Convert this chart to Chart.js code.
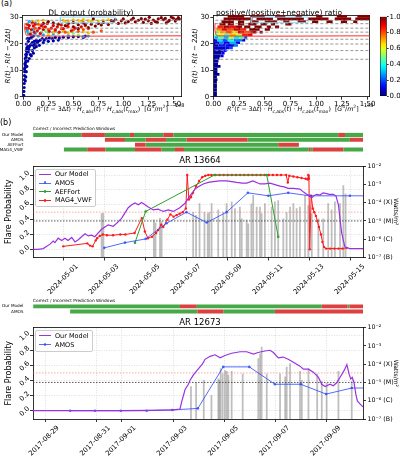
<!DOCTYPE html>
<html>
<head>
<meta charset="utf-8">
<script src="https://cdn.jsdelivr.net/npm/chart.js@4.4.1/dist/chart.umd.min.js"></script>
<style>
  body { margin: 0; background: #fff; }
  #fig { position: relative; width: 400px; height: 459px; overflow: hidden; font-family: "DejaVu Sans", sans-serif; color: #000; }
  #fig canvas, #fig .txt, #fig .legend { position: absolute; }
  .txt { white-space: nowrap; line-height: 1; }
  .math { font-size: 6.3px; }
  .math sub, .math sup { font-size: 70%; line-height: 0; }
  .legend { border: 0.8px solid #ccc; border-radius: 2px; background: rgba(255,255,255,0.85); padding: 0.5px 3px 1.5px 3px; font-size: 6.5px; }
  .legend .it { display: flex; align-items: center; white-space: nowrap; }
  .legend .sw { position: relative; width: 12px; height: 0; border-top-style: solid; margin-right: 4px; }
  .legend .dot { position: absolute; left: 4.6px; top: -2.2px; width: 2.8px; height: 2.8px; border-radius: 50%; }
</style>
</head>
<body>
<div id="fig">
  <div class="txt" style="left:1px;top:0;font-size:8px">(a)</div>
  <canvas id="dl" width="200" height="118" style="left:0;top:0"></canvas>
  <canvas id="ratio" width="190" height="118" style="left:186px;top:0"></canvas>
  <canvas id="cbar" width="26" height="95" style="left:374px;top:8px"></canvas>
  <div class="txt math" style="left:22.7px;width:159px;text-align:center;top:106px"><i>R</i><sup>2</sup>(<i>t</i> − 3Δ<i>t</i>) · <i>H</i><sub><i>c,abs</i></sub>(<i>t</i>) · <i>H</i><sub><i>c,abs</i></sub>(<i>t</i><sub>max</sub>)&nbsp; [<i>G</i><sup>4</sup>/<i>m</i><sup>2</sup>]</div>
  <div class="txt" style="left:175px;top:103px;font-size:5px">1e8</div>
  <div class="txt math" style="left:213.3px;width:159px;text-align:center;top:106px"><i>R</i><sup>2</sup>(<i>t</i> − 3Δ<i>t</i>) · <i>H</i><sub><i>c,abs</i></sub>(<i>t</i>) · <i>H</i><sub><i>c,abs</i></sub>(<i>t</i><sub>max</sub>)&nbsp; [<i>G</i><sup>4</sup>/<i>m</i><sup>2</sup>]</div>
  <div class="txt" style="left:364px;top:103px;font-size:5px">1e8</div>
  <div class="txt" style="left:0;top:119px;font-size:8px">(b)</div>
  <canvas id="win1" width="400" height="37" style="left:0;top:119px"></canvas>
  <canvas id="ar1" width="400" height="155" style="left:0;top:150px"></canvas>
  <canvas id="win2" width="400" height="28" style="left:0;top:290px"></canvas>
  <canvas id="ar2" width="400" height="147" style="left:0;top:312px"></canvas>
</div>
<script>
"use strict";

// ---------------------------------------------------------------------------
// Panel (a): DL output scatter, [x (1e8 G^4/m^2), y]
// ---------------------------------------------------------------------------
const dlBlue = [
  [0.004,0.5],[0.006,2],[0.008,3.5],[0.009,5],[0.011,6.5],[0.012,8],[0.014,9.5],[0.013,10.5],[0.017,11],
  [0.016,12.5],[0.02,12],[0.022,13],[0.02,14.5],[0.025,14],[0.028,15],[0.024,16],[0.032,16],[0.03,17.5],
  [0.036,17],[0.035,18.5],[0.04,18],[0.045,19],[0.045,13.5],[0.035,11.5],[0.03,9.5],[0.025,7.5],[0.02,6],
  [0.05,17],[0.055,18],[0.06,19],[0.06,14.5],[0.07,16],[0.07,19.5],[0.08,15.5],[0.08,20],[0.09,17.5],
  [0.09,20.5],[0.1,16.5],[0.1,19.5],[0.11,18.5],[0.11,21],[0.12,20],[0.13,19],[0.13,21.5],[0.14,20.5],
  [0.15,21],[0.16,19.5],[0.17,21.5],[0.19,22],[0.2,20.5],[0.21,21.5],[0.23,22],[0.25,21],[0.26,22.3],
  [0.29,22],[0.3,21.2],[0.32,22.5],[0.35,21.5],[0.36,22.3],[0.4,22.6],[0.45,22.5],[0.5,22.7],[0.55,22.8],
  [0.6,22.5],[0.62,23],[0.03,20],[0.04,22],[0.05,21],[0.06,22],[0.08,22.5],[0.1,23],
];
const dlLightBlue = [[0.05,24],[0.08,23.5],[0.12,24],[0.15,23],[0.2,23.5],[0.3,23.8],[0.45,23.2],[0.6,22.8],[0.65,23],[0.04,25],[0.1,25.5],[0.06,28.5],[0.12,28]];
const dlGreen = [[0.07,24.5],[0.18,24.5],[0.22,25],[0.35,24],[0.5,24],[0.55,23.5],[0.25,24.2]];
const dlYellow = [
  [0.1,28.5],[0.15,28.8],[0.2,29],[0.4,29],[0.45,28.8],[0.5,29.2],[0.55,29],[0.6,29.3],[0.65,28.9],[0.7,29.1],
  [0.75,28.7],[0.8,29],[0.85,29.2],[0.42,28.5],[0.58,28.6],[0.68,28.4],[0.3,24.5],[0.4,25],[0.45,24.2],
  [0.6,24.6],[0.65,24.2],[0.25,23.3],
];
const dlOrange = [[0.12,26],[0.2,26.5],[0.25,25.5],[0.32,25],[0.38,25.8],[0.42,24.5],[0.5,25.3],[0.55,24.8],[0.6,25.5],[0.7,24.5],[0.65,25.8],[0.78,25],[0.45,26.5],[0.15,27.5]];
const dlRed = [
  [0.05,26],[0.06,27],[0.08,25.5],[0.09,28],[0.1,26.8],[0.12,27.5],[0.14,25],[0.16,26],[0.18,27],[0.2,25.5],
  [0.22,26.5],[0.24,27.8],[0.26,24.8],[0.28,26],[0.3,27],[0.32,25.5],[0.34,26.5],[0.36,24.5],[0.38,27.2],
  [0.4,25.8],[0.44,26.8],[0.48,25],[0.52,26],[0.58,26.5],[0.62,27],[0.07,23.8],[0.11,24.5],[0.17,24],[0.04,27.5],[0.03,26],
];
const dlDarkRed = [
  [0.3,28],[0.35,27.5],[0.45,27.8],[0.5,28.2],[0.55,27.3],[0.6,28],[0.68,27.5],[0.72,26.8],[0.75,27.8],[0.8,28.2],
  [0.85,27.4],[0.9,28.5],[0.95,27.8],[1.0,29.5],[1.05,28.5],[1.1,29.8],[1.15,29],[1.2,28.2],[1.25,28.8],[1.28,27.8],
  [1.32,28.5],[1.35,29.5],[1.4,29.2],[1.43,28],[1.46,29],[1.5,29.8],[1.53,29.3],[1.55,30],[1.48,30.2],[1.38,30],
  [1.18,29.6],[0.98,28.8],[0.7,29.6],[0.5,26.5],[0.55,25.8],[0.65,26.2],[0.42,27],[0.25,28.5],[0.2,27.8],
  [1.02,28],[1.08,29.2],[1.12,28.4],[1.22,29.4],[1.3,29.1],[1.34,28.2],[1.42,29.7],[1.45,28.6],[1.52,28.7],
  [1.56,29.5],[0.92,29.3],[0.88,28.9],[0.78,27.2],[0.62,27.4],[1.26,30.1],
];
// probability shown by each group's colour
const dlGroups = [[dlBlue,0.04],[dlLightBlue,0.3],[dlGreen,0.5],[dlYellow,0.68],[dlOrange,0.8],[dlRed,0.9],[dlDarkRed,1.0]];

// Panel (a) right: 2D histogram rows, [y bin, x0, x1, ratio]
const heatLow = [
  [0,0,0.035,0],[1,0,0.035,0],[2,0,0.035,0],[3,0,0.035,0],[4,0,0.035,0],[5,0,0.035,0],[6,0,0.04,0],[7,0,0.035,0],
  [8,0,0.06,0],[9,0,0.04,0],[10,0,0.04,0],[11,0,0.07,0.02],[12,0,0.045,0.02],[13,0,0.05,0.03],[14,0,0.06,0.04],
];
const heatMid = [
  [15,0,0.07,0.02],[15,0.07,0.1,0.1],[16,0,0.08,0.03],[16,0.08,0.11,0.12],[17,0,0.1,0.05],[17,0.1,0.13,0.15],
  [18,0,0.12,0.06],[18,0.12,0.16,0.12],[18,0.16,0.19,0.2],[19,0,0.05,0.04],[19,0.05,0.12,0.15],[19,0.12,0.2,0.1],[19,0.2,0.24,0.25],
  [20,0,0.06,0.08],[20,0.06,0.1,0.25],[20,0.1,0.16,0.12],[20,0.16,0.22,0.3],[20,0.22,0.26,0.1],
  [21,0,0.04,0.1],[21,0.04,0.09,0.35],[21,0.09,0.14,0.2],[21,0.14,0.2,0.4],[21,0.2,0.28,0.25],[21,0.28,0.31,0.1],
  [22,0.01,0.05,0.3],[22,0.05,0.1,0.45],[22,0.1,0.15,0.3],[22,0.15,0.2,0.55],[22,0.2,0.25,0.35],[22,0.25,0.3,0.45],[22,0.3,0.33,0.2],
];
const heatHigh = [
  [23,0.01,0.05,0.5],[23,0.05,0.1,0.6],[23,0.1,0.16,0.45],[23,0.16,0.22,0.7],[23,0.22,0.28,0.55],[23,0.28,0.33,0.85],[23,0.33,0.38,0.9],
  [24,0.02,0.06,0.55],[24,0.06,0.12,0.7],[24,0.12,0.18,0.8],[24,0.18,0.24,0.65],[24,0.24,0.3,0.9],[24,0.3,0.36,0.8],[24,0.36,0.42,0.95],[24,0.45,0.48,1],
  [25,0.03,0.08,0.75],[25,0.08,0.14,0.88],[25,0.14,0.2,0.8],[25,0.2,0.26,0.92],[25,0.26,0.32,0.85],[25,0.35,0.45,1],[25,0.5,0.55,1],
  [26,0.04,0.1,0.85],[26,0.1,0.16,0.95],[26,0.16,0.22,0.88],[26,0.22,0.28,0.98],[26,0.3,0.36,1],[26,0.4,0.47,1],[26,0.52,0.56,1],[26,0.6,0.64,1],
  [27,0.06,0.12,1],[27,0.14,0.2,1],[27,0.24,0.3,1],[27,0.34,0.42,1],[27,0.46,0.52,1],[27,0.56,0.6,1],[27,0.7,0.76,1],
  [28,0.08,0.2,1],[28,0.24,0.3,1],[28,0.36,0.44,1],[28,0.5,0.62,1],[28,0.68,0.74,1],[28,0.82,0.9,1],[28,0.96,1.02,1],[28,1.1,1.16,1],[28,1.24,1.3,1],[28,1.36,1.4,1],
  [29,0.1,0.38,1],[29,0.42,0.58,1],[29,0.62,0.88,1],[29,0.92,1.12,1],[29,1.18,1.34,1],[29,1.38,1.52,1],
  [30,0.14,0.3,1],[30,0.36,0.5,1],[30,0.6,0.7,1],[30,0.8,0.86,1],[30,1.0,1.06,1],[30,1.2,1.3,1],[30,1.4,1.52,1],
];

const refLevels = [14.2, 17.5, 20.0, 21.8, 24.5, 26.0, 27.7, 29.0];
const redBoundary = [[0.018,28],[0.015,26],[0.022,24],[0.04,23.1],[1.6,23.1]];
const cyanBox = [[0.37,28.2],[0.92,28.2],[0.92,30.2],[0.37,30.2],[0.37,28.2]];
const aTicksX = [0, 0.25, 0.5, 0.75, 1.0, 1.25, 1.5];
const aTicksY = [0, 10, 20, 30];
const cbarTicks = [0, 0.2, 0.4, 0.6, 0.8, 1.0];

// ---------------------------------------------------------------------------
// Panel (b): AR 13664, x = days since 2024-05-01
// ---------------------------------------------------------------------------
const model13664 = [
  [-1.5,0],[-1.27,0],[-1.01,0.01],[-0.84,0.04],[-0.68,0.07],[-0.52,0.11],[-0.44,0.09],[-0.28,0.15],[-0.11,0.12],
  [0.05,0.15],[0.2,0.12],[0.38,0.16],[0.54,0.1],[0.7,0.13],[0.86,0.17],[1.03,0.21],[1.19,0.18],[1.35,0.19],[1.51,0.17],
  [1.67,0.22],[1.84,0.27],[2.0,0.3],[2.16,0.33],[2.41,0.31],[2.65,0.37],[2.82,0.42],[2.98,0.49],[3.14,0.56],[3.31,0.6],
  [3.47,0.625],[3.63,0.6],[3.79,0.63],[3.96,0.6],[4.12,0.57],[4.36,0.53],[4.6,0.54],[4.85,0.51],[5.09,0.53],[5.34,0.51],
  [5.66,0.56],[5.91,0.62],[6.15,0.72],[6.4,0.81],[6.6,0.85],[6.8,0.88],[7.05,0.9],[7.29,0.91],[7.6,0.92],[7.94,0.92],
  [8.2,0.91],[8.43,0.9],[8.7,0.89],[8.92,0.89],[9.23,0.92],[9.57,0.88],[9.8,0.88],[10.06,0.89],[10.3,0.87],[10.55,0.85],
  [10.75,0.84],[10.95,0.82],[11.2,0.82],[11.52,0.81],[11.7,0.77],[11.85,0.74],[12.01,0.72],[12.09,0.69],[12.2,0.72],
  [12.34,0.74],[12.5,0.73],[12.65,0.76],[12.83,0.75],[12.95,0.74],[13.15,0.74],[13.28,0.72],[13.4,0.6],[13.48,0.4],
  [13.56,0.22],[13.64,0.12],[13.72,0.03],[13.85,0.02],[13.96,0.01],[14.2,0.01],[14.6,0.01],
];
const amos13664 = [[1.97,0.02],[2.98,0.09],[3.99,0.14],[5.01,0.35],[5.98,0.5],[6.97,0.36],[7.94,0.5],[8.98,0.76],[9.98,0.72],[10.95,0.76],[12.0,0.72],[13.96,0.72],[14.95,0.72]];
const aeff13664 = [[3.47,0.09],[3.99,0.51],[7.35,1.0],[9.9,1.0],[10.46,0.17]];
const mag413664 = [
  [-0.03,0.04],[1.14,0.08],[1.27,0.05],[1.4,0.04],[1.55,0.12],[1.62,0.15],[1.75,0.18],[1.9,0.2],[2.1,0.19],[2.4,0.19],
  [2.75,0.2],[3.0,0.2],[3.45,0.22],[3.8,0.42],[3.95,0.24],[4.1,0.15],[4.3,0.17],[4.5,0.22],[4.6,0.26],[4.75,0.33],
  [4.85,0.3],[5.05,0.4],[5.2,0.47],[5.35,0.44],[5.5,0.46],[5.65,0.48],[5.8,0.5],[5.95,0.55],[6.02,1.0],[6.1,0.67],
  [6.2,0.7],[6.3,0.76],[6.45,0.85],[6.6,0.92],[6.75,0.97],[6.9,0.99],[7.05,1.0],[7.2,1.0],[7.4,1.0],[7.6,1.0],[7.8,1.0],
  [8.0,1.0],[8.2,1.0],[8.4,1.0],[8.6,1.0],[8.8,1.0],[9.0,1.0],[9.2,1.0],[9.4,1.0],[9.6,1.0],[9.8,1.0],[10.0,1.0],
  [10.2,1.0],[10.4,1.0],[10.6,1.0],[10.85,1.0],[10.93,0.9],[11.0,0.99],[11.2,0.98],[11.4,0.97],[11.6,0.96],[11.8,0.95],
  [11.9,0.94],[11.93,1.0],[11.96,0.95],[12.0,0.0],[12.07,0.72],[12.15,0.55],[12.22,0.5],[12.3,0.45],[12.37,0.38],
  [12.45,0.3],[12.55,0.2],[12.62,0.1],[12.7,0.03],[12.8,0.01],[13.0,0.01],[13.2,0.01],[13.4,0.01],[13.6,0.01],[13.8,0.02],
];
// GOES flares: [day, peak flux W/m^2]
const flares13664 = [
  [1.84,2.5e-5],[1.92,2.6e-5],[4.39,1.1e-5],[4.47,8e-6],[4.69,1.4e-5],[4.77,9e-6],[6.31,3e-5],[6.45,2e-5],[6.62,9e-5],
  [6.86,3e-5],[7.02,2.5e-5],[7.1,3e-5],[7.21,9e-5],[7.53,4e-5],[7.78,3e-5],[7.94,9e-5],[8.19,1.1e-4],[8.35,4.7e-5],
  [8.59,5.7e-5],[8.68,1.3e-5],[8.92,1.1e-5],[9.0,7e-6],[9.15,8.7e-5],[9.24,2.5e-4],[9.41,5.7e-5],[9.57,5.7e-5],
  [9.65,2.5e-5],[9.81,9e-5],[10.14,5.7e-5],[10.3,1.1e-4],[10.46,1.3e-4],[10.71,1.3e-5],[10.87,3e-5],[11.04,5.7e-5],
  [11.2,9e-5],[11.36,4.7e-5],[11.52,5.7e-5],[11.77,2.5e-4],[11.93,7e-5],[12.1,2.5e-5],[12.42,1.3e-5],[12.66,1.3e-5],
  [12.9,9e-5],[13.07,4e-5],[13.23,1.1e-4],[13.48,9e-5],[13.64,8.7e-4],[13.75,3e-4],
];
const ticks13664 = [0, 2, 4, 6, 8, 10, 12, 14];
const labels13664 = ["2024-05-01","2024-05-03","2024-05-05","2024-05-07","2024-05-09","2024-05-11","2024-05-13","2024-05-15"];
// prediction windows: [start day, end day, correct?]
const winModel13664 = [[-1.5,0.86,1],[0.86,2.0,0],[2.0,3.22,1],[3.22,3.42,0],[3.42,4.85,1],[4.85,5.34,0],[5.34,13.39,1],[13.39,13.72,0],[13.72,14.61,1]];
const winAmos13664 = [[2.0,2.98,0],[2.98,3.99,1],[3.99,4.98,0],[4.98,5.99,1],[5.99,8.97,0],[8.97,13.96,1],[13.96,14.61,0]];
const winAeff13664 = [[3.47,3.99,0],[3.99,10.46,1],[10.46,11.47,0]];
const winMag413664 = [[0.0,1.14,1],[1.14,2.02,0],[2.02,3.47,1],[3.47,4.77,0],[4.77,5.42,1],[5.42,5.86,0],[5.86,11.95,1],[11.95,12.05,0],[12.05,12.15,1],[12.15,13.64,0],[13.64,14.61,1]];

// AR 12673, x = days since 2017-08-29
const model12673 = [
  [-0.47,0],[1,0],[2,0],[3,0],[4,0.005],[5,0.01],[5.27,0.02],[5.34,0.12],[5.47,0.28],[5.6,0.35],[5.66,0.4],[5.79,0.47],
  [5.93,0.53],[6.03,0.57],[6.15,0.62],[6.25,0.68],[6.45,0.72],[6.64,0.74],[6.84,0.7],[7.03,0.73],[7.29,0.76],[7.62,0.78],
  [7.88,0.78],[8.14,0.75],[8.32,0.77],[8.59,0.79],[8.79,0.8],[8.92,0.77],[9.11,0.7],[9.3,0.71],[9.5,0.68],[9.7,0.64],
  [9.96,0.59],[10.09,0.55],[10.29,0.55],[10.48,0.51],[10.68,0.44],[10.81,0.35],[10.94,0.32],[11.13,0.35],[11.26,0.33],
  [11.39,0.37],[11.52,0.44],[11.68,0.53],[11.79,0.61],[11.88,0.48],[11.94,0.42],[12.0,0.44],[12.07,0.37],[12.14,0.22],
  [12.2,0.13],[12.3,0.09],[12.42,0.05],
];
const amos12673 = [[0.98,0],[1.95,0],[2.96,0],[3.97,0],[4.97,0.01],[5.97,0.03],[6.96,0.58],[7.98,0.58],[8.98,0.35],[9.99,0.35],[10.98,0.22],[11.98,0.3],[12.98,0.3]];
const flares12673 = [
  [5.7,6e-6],[5.9,1e-5],[6.2,1.3e-5],[6.5,2e-6],[6.77,1.6e-5],[6.81,1.3e-5],[6.86,5.7e-5],[6.94,3e-5],[7.03,4.5e-5],
  [7.1,4e-5],[7.16,2.5e-5],[7.29,4e-5],[7.72,3e-5],[8.33,2e-4],[8.4,3.7e-4],[8.46,8.5e-4],[8.66,3e-5],[9.18,3e-5],
  [9.38,2e-5],[9.44,7e-5],[9.57,1.07e-4],[9.96,4e-5],[10.03,1.3e-5],[10.29,5.7e-5],[10.63,3e-5],[10.81,1.1e-5],
  [11.0,9e-6],[11.46,4e-5],[11.98,1.1e-5],
];
const ticks12673 = [0, 2, 3, 5, 7, 9, 11];
const labels12673 = ["2017-08-29","2017-08-31","2017-09-01","2017-09-03","2017-09-05","2017-09-07","2017-09-09"];
const winModel12673 = [[-0.46,5.27,1],[5.27,5.93,0],[5.93,10.81,1],[10.81,11.82,0],[11.82,11.89,1],[11.89,12.43,0]];
const winAmos12673 = [[0.98,5.95,1],[5.95,6.96,0],[6.96,8.98,1],[8.98,12.43,0]];

const probTicks = [0, 0.2, 0.4, 0.6, 0.8, 1.0];
const fluxTicks = [1e-7, 1e-6, 1e-5, 1e-4, 1e-3, 1e-2];
const fluxLabels = ["10⁻⁷ (B)", "10⁻⁶ (C)", "10⁻⁵ (M)", "10⁻⁴ (X)", "10⁻³", "10⁻²"];
const probThreshold = 0.5;
const mClassFlux = 1e-5;

// ---------------------------------------------------------------------------
// helpers
// ---------------------------------------------------------------------------
Chart.defaults.font.family = "'DejaVu Sans', sans-serif";
Chart.defaults.color = "#000";
Chart.defaults.animation = false;
Chart.defaults.responsive = false;
Chart.defaults.plugins.legend.display = false;
Chart.defaults.plugins.tooltip.enabled = false;

const GREEN = "#46a846";
const RED = "#dc4141";
const PURPLE = "#9932e0";

const fixW = (w) => (s) => { s.width = w; };
const fixH = (h) => (s) => { s.height = h; };
const fixedTicks = (vals) => (s) => { s.ticks = vals.map((v) => ({ value: v })); };
const pts = (arr) => arr.map(([x, y]) => ({ x, y }));

function jet(v) {
  const c = (t) => Math.round(255 * Math.max(0, Math.min(1, t)));
  return `rgb(${c(Math.min(4 * v - 1.5, -4 * v + 4.5))},${c(Math.min(4 * v - 0.5, -4 * v + 3.5))},${c(Math.min(4 * v + 0.5, -4 * v + 2.5))})`;
}

const tickGrid = { display: true, drawOnChartArea: false, offset: false, tickColor: "#000", tickLength: 3, tickWidth: 0.8 };
const frame = {
  xTop: { type: "linear", position: "top", afterFit: fixH(0), ticks: { display: false }, grid: { display: false }, border: { color: "#000", width: 0.8 } },
  yRight: { type: "linear", position: "right", afterFit: fixW(0), ticks: { display: false }, grid: { display: false }, border: { color: "#000", width: 0.8 } },
};

function overlayLines(xMax) {
  const sets = refLevels.map((L) => ({
    type: "line", data: pts([[0.02, L], [xMax, L]]), borderColor: "#8a8a8a", borderWidth: 0.9,
    borderDash: [3, 2], pointRadius: 0, order: 0,
  }));
  sets.push({ type: "line", data: pts(redBoundary), borderColor: "#ff2a2a", borderWidth: 1, pointRadius: 0, tension: 0.3, order: 0 });
  sets.push({ type: "line", data: pts(cyanBox), borderColor: "#8fd3f0", borderWidth: 0.9, pointRadius: 0, order: 0 });
  return sets;
}

function panelAScales(xMin, xMax, yAxisWidth, titlePad) {
  return {
    x: {
      type: "linear", offset: false, min: xMin, max: xMax, afterBuildTicks: fixedTicks(aTicksX), afterFit: fixH(21.3),
      ticks: { callback: (v) => v.toFixed(2), font: { size: 7 }, padding: 0.5, maxRotation: 0 },
      grid: tickGrid, border: { color: "#000", width: 0.8 },
    },
    y: {
      type: "linear", offset: false, min: 0, max: 31, afterBuildTicks: fixedTicks(aTicksY), afterFit: fixW(yAxisWidth),
      ticks: { font: { size: 7 }, padding: 1 }, grid: tickGrid, border: { color: "#000", width: 0.8 },
      title: { display: true, text: "R(t) · R(t − 2Δt)", font: { size: 7, style: "italic" }, padding: { top: titlePad, bottom: 0 } },
    },
    ...frame,
  };
}

// (a) left: scatter coloured by DL probability
new Chart(document.getElementById("dl"), {
  type: "scatter",
  data: {
    datasets: [
      ...overlayLines(1.6),
      ...dlGroups.map(([g, p], i) => ({
        data: pts(g), backgroundColor: jet(p), borderWidth: 0, pointRadius: 1.6, order: 10 - i,
      })),
    ],
  },
  options: {
    layout: { padding: { left: 0, right: 18.3, top: 0, bottom: 0 } },
    plugins: { title: { display: true, text: "DL output (probability)", font: { size: 7.5, weight: "normal" }, padding: { top: 8.5, bottom: -2.5 } } },
    scales: panelAScales(-0.006, 1.584, 22.7, 3.8),
  },
});

// (a) right: positive/(positive+negative) ratio as a binned map
const heatCells = [...heatLow, ...heatMid, ...heatHigh];
new Chart(document.getElementById("ratio"), {
  type: "line",
  data: {
    datasets: [
      {
        type: "bar", indexAxis: "y", order: 5, borderWidth: 0, barPercentage: 1.04, categoryPercentage: 1,
        data: heatCells.map(([yb, x0, x1, v]) => ({ y: yb + 0.5, x: [x0, x1], v })),
        backgroundColor: (c) => (c.raw ? jet(c.raw.v) : "transparent"),
      },
      ...overlayLines(1.6),
    ],
  },
  options: {
    layout: { padding: { left: 0, right: 4, top: 0, bottom: 0 } },
    plugins: { title: { display: true, text: "positive/(positive+negative) ratio", font: { size: 7.5, weight: "normal" }, padding: { top: 8.5, bottom: -2.5 } } },
    scales: panelAScales(0, 1.52, 27.3, 4.8),
  },
});

// colour bar
new Chart(document.getElementById("cbar"), {
  type: "bar",
  data: {
    labels: [""],
    datasets: [{
      data: [[0, 1]], barPercentage: 1, categoryPercentage: 1, borderWidth: 0.8, borderColor: "#000", borderSkipped: false,
      backgroundColor: (c) => {
        const area = c.chart.chartArea;
        if (!area) return "transparent";
        const g = c.chart.ctx.createLinearGradient(0, area.bottom, 0, area.top);
        for (let s = 0; s <= 20; s++) g.addColorStop(s / 20, jet(s / 20));
        return g;
      },
    }],
  },
  options: {
    layout: { padding: { left: 6, right: 0, top: 8.7, bottom: 6.7 } },
    scales: {
      x: { display: false },
      y: {
        position: "right", min: 0, max: 1, afterBuildTicks: fixedTicks(cbarTicks), afterFit: fixW(13.3),
        ticks: { callback: (v) => v.toFixed(1), font: { size: 7 }, padding: 0.8 },
        grid: { display: true, drawOnChartArea: false, tickColor: "#000", tickLength: 2, tickWidth: 0.8 }, border: { display: false },
      },
    },
  },
});

// (b) prediction window strips
function windowStrip(id, rowNames, rows, xMin, xMax, o) {
  const data = [];
  rows.forEach((segs, r) => segs.forEach(([s, e, ok]) => data.push({ y: rowNames[r], x: [s, e], ok })));
  return new Chart(document.getElementById(id), {
    type: "bar",
    data: {
      labels: rowNames,
      datasets: [{
        data, borderWidth: 0, barPercentage: o.bar, categoryPercentage: 1,
        backgroundColor: (c) => (c.raw && c.raw.ok ? GREEN : RED),
      }],
    },
    options: {
      indexAxis: "y",
      layout: { padding: { left: 0, right: 37, top: 0, bottom: o.bottom } },
      plugins: {
        title: {
          display: true, text: "Correct / Incorrect Prediction Windows", align: "start", fullSize: false,
          font: { size: 4.3, weight: "normal" }, padding: { top: o.tTop, bottom: o.tBottom },
        },
      },
      scales: {
        x: { type: "linear", display: false, min: xMin, max: xMax },
        y: { afterFit: fixW(33), ticks: { font: { size: 4.2 }, padding: 1.5, autoSkip: false }, grid: { display: false }, border: { display: false } },
      },
    },
  });
}

// (b) probability + GOES flux panel
function arChart(id, o) {
  const line = (label, arr, color, width, radius) => ({
    type: "line", label, data: pts(arr), borderColor: color, backgroundColor: color,
    borderWidth: width, pointRadius: radius, pointBorderWidth: 0, yAxisID: "y", order: 1,
  });
  const datasets = [
    ...o.series.map(([label, arr, color, w, r]) => line(label, arr, color, w, r)),
    {
      type: "line", data: pts([[o.xMin, probThreshold], [o.xMax, probThreshold]]), yAxisID: "y",
      borderColor: "rgba(255,80,80,0.55)", borderWidth: 0.9, borderDash: [1.5, 1.5], pointRadius: 0, order: 8,
    },
    {
      type: "line", data: pts([[o.xMin, mClassFlux], [o.xMax, mClassFlux]]), yAxisID: "flux",
      borderColor: "#444", borderWidth: 0.9, borderDash: [1.5, 1.5], pointRadius: 0, order: 8,
    },
    {
      type: "bar", yAxisID: "flux", order: 10, barThickness: 1.1, grouped: false,
      data: o.flares.map(([d, f]) => ({ x: d, y: [1e-7, f] })), backgroundColor: "rgba(110,110,110,0.45)",
    },
  ];
  const dotted = { color: "#d6d6d6", offset: false, tickColor: "#000", tickLength: 3, tickWidth: 0.8, lineWidth: 0.8 };
  const chart = new Chart(document.getElementById(id), {
    type: "line",
    data: { datasets },
    options: {
      layout: { padding: 0 },
      plugins: { title: { display: true, text: o.title, font: { size: 8.5, weight: "normal" }, padding: { top: o.tTop, bottom: 0 } } },
      scales: {
        x: {
          type: "linear", offset: false, min: o.xMin, max: o.xMax, afterBuildTicks: fixedTicks(o.ticks), afterFit: fixH(o.xh),
          ticks: { callback: (v, i) => o.labels[i], minRotation: 45, maxRotation: 45, autoSkip: false, font: { size: 6.8 }, padding: 2, labelOffset: 13 },
          grid: dotted, border: { color: "#000", width: 0.8, dash: [1, 1.5] },
        },
        xTop: frame.xTop,
        y: {
          position: "left", offset: false, min: o.yMin, max: o.yMax, afterBuildTicks: fixedTicks(probTicks), afterFit: fixW(33),
          ticks: { callback: (v) => v.toFixed(1), minRotation: 45, font: { size: 6.8 }, padding: 1.5, labelOffset: -3 },
          grid: dotted, border: { color: "#000", width: 0.8, dash: [1, 1.5] },
          title: { display: true, text: "Flare Probability", font: { size: 8 }, padding: { top: 4.2, bottom: 0 } },
        },
        flux: {
          type: "logarithmic", position: "right", offset: false, min: 1e-7, max: 1e-2, afterBuildTicks: fixedTicks(fluxTicks), afterFit: fixW(37),
          ticks: { callback: (v, i) => fluxLabels[i], font: { size: 6.3 }, padding: 1.5 },
          grid: { drawOnChartArea: false, tickColor: "#000", tickLength: 3, tickWidth: 0.8 }, border: { color: "#000", width: 0.8 },
          title: { display: true, text: "Watts/m²", font: { size: 6 }, padding: { top: 0.5, bottom: 0 } },
        },
      },
    },
  });
  htmlLegend(chart, o.legend);
  return chart;
}

function htmlLegend(chart, pos) {
  const box = document.createElement("div");
  box.className = "legend";
  box.style.left = pos.left + "px";
  box.style.top = pos.top + "px";
  for (const ds of chart.data.datasets) {
    if (!ds.label) continue;
    const row = document.createElement("div");
    row.className = "it";
    row.style.height = pos.row + "px";
    const sw = document.createElement("span");
    sw.className = "sw";
    sw.style.borderTopColor = ds.borderColor;
    sw.style.borderTopWidth = Math.max(1, ds.borderWidth) + "px";
    if (ds.pointRadius) {
      const dot = document.createElement("span");
      dot.className = "dot";
      dot.style.background = ds.borderColor;
      sw.appendChild(dot);
    }
    const t = document.createElement("span");
    t.textContent = ds.label;
    row.append(sw, t);
    box.appendChild(row);
  }
  document.getElementById("fig").appendChild(box);
}

const AMOS_BLUE = "rgba(40,70,255,0.8)";
const AEFF_GREEN = "#2ca02c";
const MAG4_RED = "#ff1a1a";

windowStrip("win1", ["Our Model", "AMOS", "AEFFort", "MAG4_VWF"],
  [winModel13664, winAmos13664, winAeff13664, winMag413664], -1.51, 14.6,
  { bar: 0.83, bottom: 2, tTop: 6.9, tBottom: 1.4 });

arChart("ar1", {
  title: "AR 13664", tTop: 5.9, xMin: -1.51, xMax: 14.6, xh: 47.5, yMin: -0.11, yMax: 1.12,
  ticks: ticks13664, labels: labels13664, flares: flares13664,
  series: [
    ["Our Model", model13664, PURPLE, 1.2, 0],
    ["AMOS", amos13664, AMOS_BLUE, 1, 1.3],
    ["AEFFort", aeff13664, AEFF_GREEN, 1, 1.3],
    ["MAG4_VWF", mag413664, MAG4_RED, 1, 1.2],
  ],
  legend: { left: 35, top: 168.5, row: 8.7 },
});

windowStrip("win2", ["Our Model", "AMOS"], [winModel12673, winAmos12673], -0.47, 12.42,
  { bar: 0.78, bottom: 2.4, tTop: 8.7, tBottom: 0 });

arChart("ar2", {
  title: "AR 12673", tTop: 5.4, xMin: -0.47, xMax: 12.42, xh: 40, yMin: -0.11, yMax: 1.1,
  ticks: ticks12673, labels: labels12673, flares: flares12673,
  series: [
    ["Our Model", model12673, PURPLE, 1.2, 0],
    ["AMOS", amos12673, AMOS_BLUE, 1, 1.3],
  ],
  legend: { left: 35, top: 329.5, row: 9.3 },
});
</script>
</body>
</html>
